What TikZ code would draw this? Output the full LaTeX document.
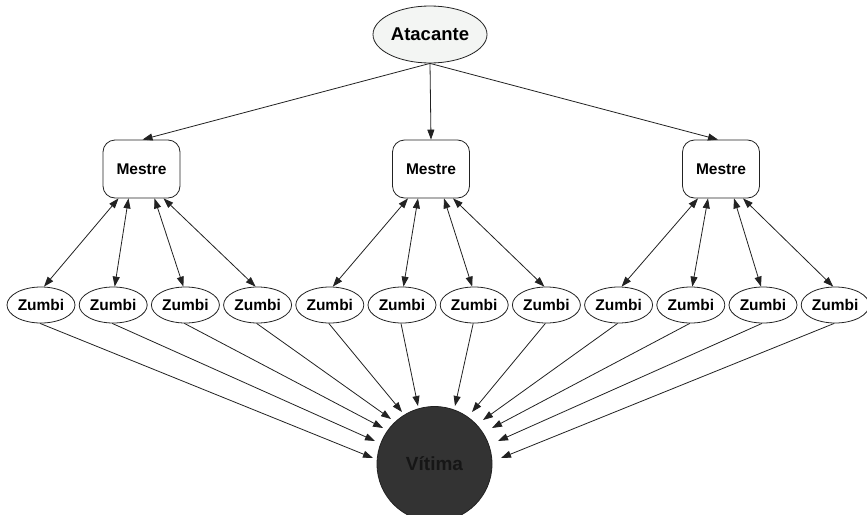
\documentclass[tikz,border=0pt]{standalone}
\usepackage{fontspec}
\setmainfont{Liberation Sans}
\usetikzlibrary{shapes.geometric,arrows.meta,calc}
\definecolor{linec}{HTML}{222222}
\definecolor{atafill}{HTML}{F3F5F3}
\definecolor{vicfill}{HTML}{333333}
\definecolor{victext}{HTML}{161616}
\begin{document}
\begin{tikzpicture}[x=1pt,y=-1pt,
  every node/.style={font=\bfseries\fontsize{15.5}{18}\selectfont, text=black},
  conn/.style={draw=linec, line width=0.8pt, -{Triangle[length=10pt,width=7pt]}},
  bconn/.style={draw=linec, line width=0.8pt, {Triangle[length=10pt,width=7pt]}-{Triangle[length=10pt,width=7pt]}},
  atkbox/.style={ellipse, draw=linec, line width=0.8pt, fill=atafill, minimum width=114pt, minimum height=57pt, inner sep=0pt, font=\bfseries\fontsize{18.5}{21}\selectfont},
  mbox/.style={rectangle, rounded corners=12pt, draw=linec, line width=0.8pt, fill=white, minimum width=77pt, minimum height=58pt, inner sep=0pt},
  zbox/.style={ellipse, draw=linec, line width=0.8pt, fill=white, minimum width=68pt, minimum height=36pt, inner sep=0pt},
  vbox/.style={circle, draw=linec, line width=0.8pt, fill=vicfill, minimum size=115pt, inner sep=0pt, text=victext, font=\bfseries\fontsize{19}{22}\selectfont}
]
\clip (0,0) rectangle (867,514);
\fill[white] (0,0) rectangle (867,514);

\node[atkbox] (atk) at (430,34.5) {Atacante};

\node[mbox] (m1) at (141.5,169) {Mestre};
\node[mbox] (m2) at (431,169) {Mestre};
\node[mbox] (m3) at (721,169) {Mestre};

\foreach \i in {1,...,12} {
  \node[zbox] (z\i) at ({41+72.2*(\i-1)},305) {Zumbi};
}

\node[vbox] (v) at (434.5,464) {Vítima};

% victim arrow tips
\coordinate (t1) at (373,458);
\coordinate (t2) at (375,441);
\coordinate (t3) at (383,428);
\coordinate (t4) at (391,419);
\coordinate (t5) at (402,412);
\coordinate (t6) at (418,406);
\coordinate (t7) at (455,406);
\coordinate (t8) at (472,412);
\coordinate (t9) at (483,420);
\coordinate (t10) at (492,428);
\coordinate (t11) at (498,441);
\coordinate (t12) at (501,458);

% attacker to masters
\draw[conn] (atk.south) -- ([xshift=1pt]m1.north);
\draw[conn] (atk.south) -- (m2.north);
\draw[conn] (atk.south) -- ([xshift=-3pt]m3.north);

% masters <-> zombies
\foreach \m/\a/\b/\c/\d in {1/1/2/3/4, 2/5/6/7/8, 3/9/10/11/12} {
  \draw[bconn] ([xshift=3pt]z\a.north) -- ([xshift=-23pt]m\m.south);
  \draw[bconn] ([xshift=1.5pt]z\b.north) -- ([xshift=-13pt]m\m.south);
  \draw[bconn] ([xshift=-2pt]z\c.north) -- ([xshift=13pt]m\m.south);
  \draw[bconn] ([xshift=-2pt]z\d.north) -- ([xshift=22pt]m\m.south);
}

% zombies to victim
\foreach \i in {1,...,12} {
  \draw[conn] ([xshift=-1pt]z\i.south) -- (t\i);
}
\end{tikzpicture}
\end{document}
